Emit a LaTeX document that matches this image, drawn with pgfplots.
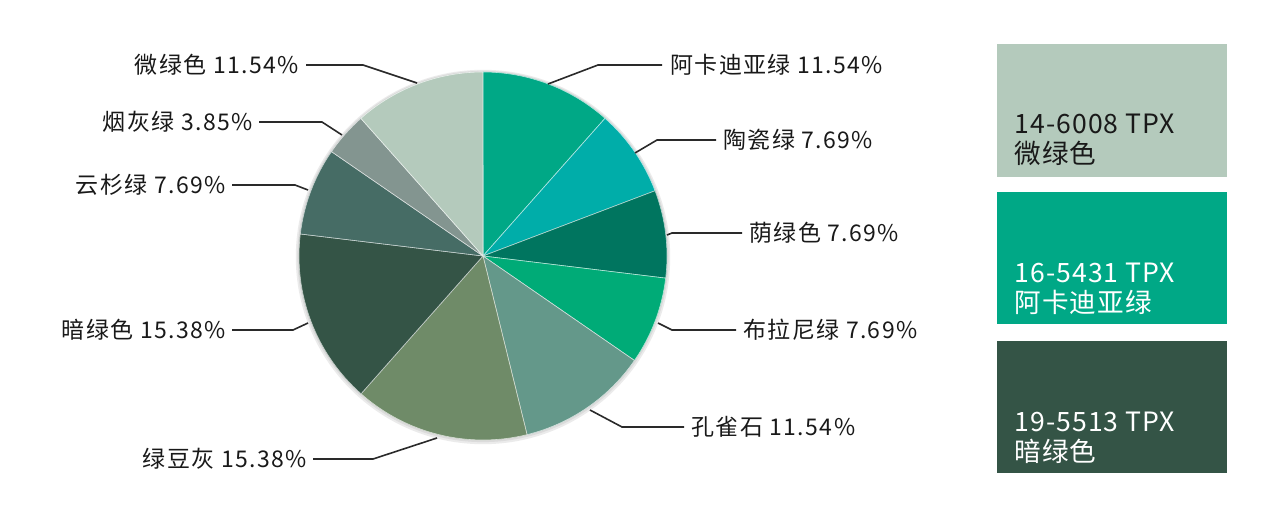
\documentclass[border=0pt]{standalone}
\usepackage{fontspec}
\setmainfont{Noto Sans CJK SC}
\newfontfamily\labfont[LetterSpace=6]{Noto Sans CJK SC}
\newfontfamily\boxfont[LetterSpace=4]{Noto Sans CJK SC}
\usepackage{pgfplots}
\usepackage{pgfplotstable}
\pgfplotsset{compat=1.18}

\definecolor{c1}{HTML}{00A886}
\definecolor{c2}{HTML}{00ADA9}
\definecolor{c3}{HTML}{00755F}
\definecolor{c4}{HTML}{00AB77}
\definecolor{c5}{HTML}{64988A}
\definecolor{c6}{HTML}{6F8B68}
\definecolor{c7}{HTML}{345446}
\definecolor{c8}{HTML}{466C65}
\definecolor{c9}{HTML}{839590}
\definecolor{c10}{HTML}{B4CABC}
\definecolor{leader}{HTML}{2A2A2A}

% slices clockwise from 12 o'clock
\pgfplotstableread{
value color
11.54 c1
7.69  c2
7.69  c3
7.69  c4
11.54 c5
15.38 c6
15.38 c7
7.69  c8
3.85  c9
11.54 c10
}\piedata

\begin{document}
\begin{tikzpicture}[
    lab/.style={font=\labfont\fontsize{11.5}{13}\selectfont, inner sep=0pt, text=black!90},
    box/.style={font=\boxfont\fontsize{13.3}{15}\selectfont, inner sep=0pt, anchor=base west},
]
\begin{axis}[
    x=0.5pt, y=0.5pt,
    xmin=0, xmax=1280, ymin=0, ymax=518,
    y dir=reverse,
    hide axis, clip=false,
]
\path (axis cs:0,0) rectangle (axis cs:1280,518);

% faint rim around the pie
\fill[black!8] (axis cs:483,257) circle[radius=93.6pt];
\fill[black!14] (axis cs:483,256.5) circle[radius=92.8pt];

\xdef\angA{90}
\pgfplotsforeachungrouped \i in {0,...,9}{%
  \pgfplotstablegetelem{\i}{value}\of\piedata \let\sliceval=\pgfplotsretval
  \pgfplotstablegetelem{\i}{color}\of\piedata \let\slicecol=\pgfplotsretval
  \pgfmathsetmacro\angB{\angA-\sliceval*3.6}%
  \edef\temp{\noexpand\fill[\slicecol, draw=white!70!\slicecol, line width=0.3pt]
    (axis cs:483,256) -- ++(\angA:92pt) arc[start angle=\angA, end angle=\angB, radius=92pt] -- cycle;}%
  \temp
  \xdef\angA{\angB}%
}

% leader lines
\addplot[leader, line width=0.8pt, no marks] coordinates {(662,65) (598,65) (548,84)};
\addplot[leader, line width=0.8pt, no marks] coordinates {(716,140) (657,140) (635,153)};
\addplot[leader, line width=0.8pt, no marks] coordinates {(742,233) (672,233) (667,235)};
\addplot[leader, line width=0.8pt, no marks] coordinates {(736,330) (672,330) (658,323)};
\addplot[leader, line width=0.8pt, no marks] coordinates {(684,427) (622,427) (590,410)};
\addplot[leader, line width=0.8pt, no marks] coordinates {(306,65) (363,65) (417,83)};
\addplot[leader, line width=0.8pt, no marks] coordinates {(259,122) (322,122) (342,135)};
\addplot[leader, line width=0.8pt, no marks] coordinates {(232,185) (295,185) (308,190)};
\addplot[leader, line width=0.8pt, no marks] coordinates {(232,330) (293,330) (308,323)};
\addplot[leader, line width=0.8pt, no marks] coordinates {(313,459) (373,459) (437,438)};

% labels
\node[lab, anchor=west] at (axis cs:670,65) {阿卡迪亚绿 11.54\%};
\node[lab, anchor=west] at (axis cs:723,140) {陶瓷绿 7.69\%};
\node[lab, anchor=west] at (axis cs:749,233) {荫绿色 7.69\%};
\node[lab, anchor=west] at (axis cs:743,330) {布拉尼绿 7.69\%};
\node[lab, anchor=west] at (axis cs:691,427) {孔雀石 11.54\%};
\node[lab, anchor=east] at (axis cs:299,65) {微绿色 11.54\%};
\node[lab, anchor=east] at (axis cs:253,122) {烟灰绿 3.85\%};
\node[lab, anchor=east] at (axis cs:226,185) {云杉绿 7.69\%};
\node[lab, anchor=east] at (axis cs:226,330) {暗绿色 15.38\%};
\node[lab, anchor=east] at (axis cs:307,459) {绿豆灰 15.38\%};

% colour swatches
\fill[c10] (axis cs:997,44) rectangle (axis cs:1227,177);
\fill[c1]  (axis cs:997,192) rectangle (axis cs:1227,324);
\fill[c7]  (axis cs:997,341) rectangle (axis cs:1227,473);
\node[box, text=black!90] at (axis cs:1014,134) {14-6008 TPX};
\node[box, text=black!90] at (axis cs:1014,164) {微绿色};
\node[box, text=white] at (axis cs:1014,283) {16-5431 TPX};
\node[box, text=white] at (axis cs:1014,313) {阿卡迪亚绿};
\node[box, text=white] at (axis cs:1014,431) {19-5513 TPX};
\node[box, text=white] at (axis cs:1014,461) {暗绿色};
\end{axis}
\end{tikzpicture}
\end{document}
